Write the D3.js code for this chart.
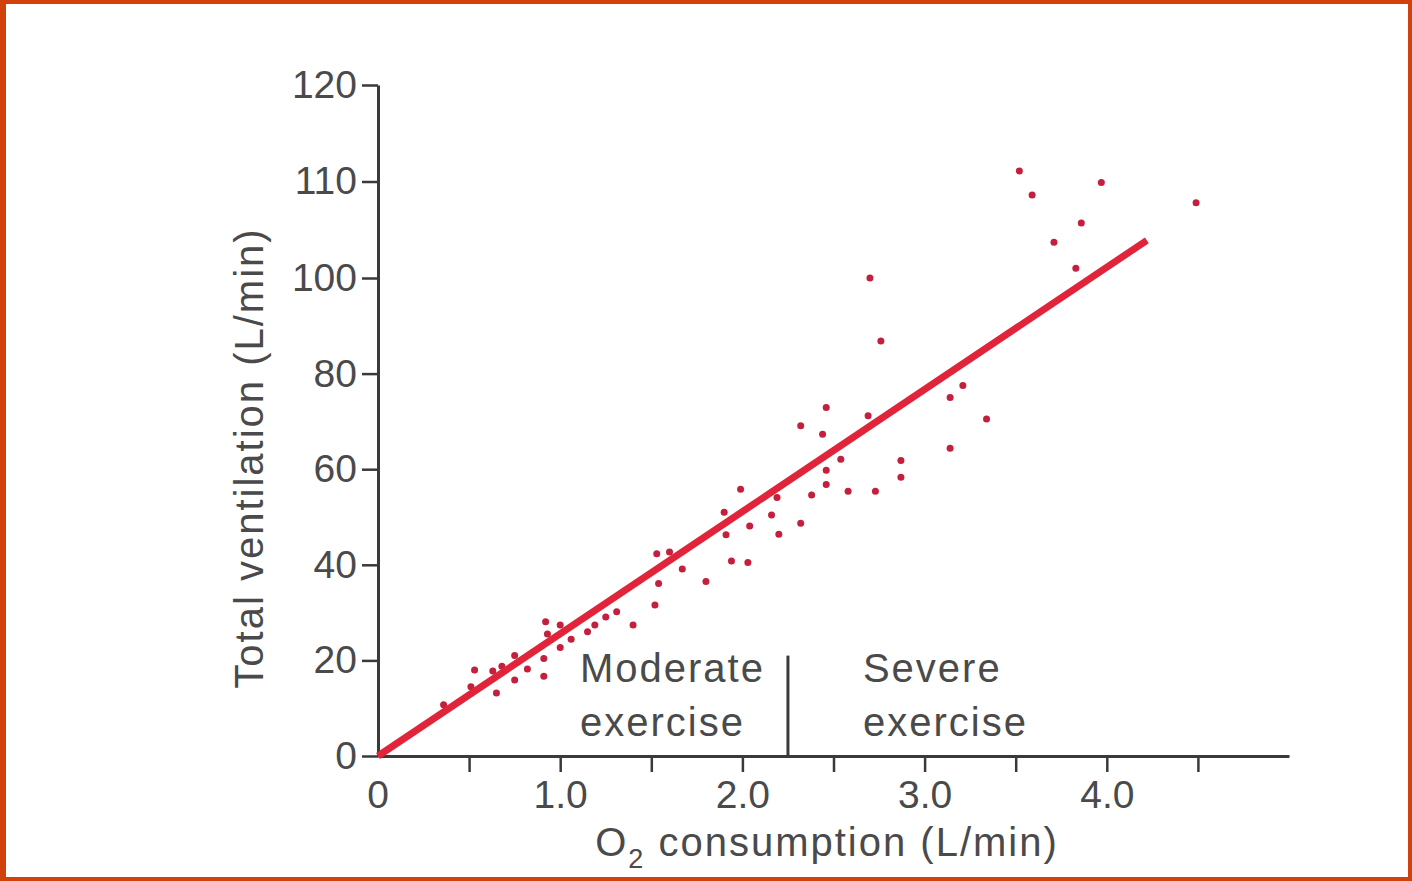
<!DOCTYPE html>
<html>
<head>
<meta charset="utf-8">
<script src="https://cdn.jsdelivr.net/npm/d3@7"></script>
<style>
  html, body { margin: 0; padding: 0; background: #ffffff; }
  svg { display: block; }
  text { font-family: "Liberation Sans", Arial, Helvetica, sans-serif; fill: #4a4a4a; }
</style>
</head>
<body>
<svg id="chart" width="1412" height="881"></svg>
<script>
// O2 consumption (L/min) for each measured subject
const o2Consumption = [
  0.36, 0.51, 0.53, 0.63, 0.65, 0.68, 0.75, 0.75, 0.82, 0.91,
  0.91, 0.92, 0.93, 1.00, 1.00, 1.06, 1.15, 1.19, 1.25, 1.31,
  1.40, 1.52, 1.54, 1.53, 1.60, 1.67, 1.80, 1.90, 1.91, 1.94,
  1.99, 2.03, 2.04, 2.16, 2.19, 2.20, 2.32, 2.32, 2.38, 2.44,
  2.46, 2.46, 2.46, 2.54, 2.58, 2.69, 2.70, 2.73, 2.76, 2.87,
  2.87, 3.14, 3.14, 3.21, 3.34, 3.52, 3.59, 3.71, 3.83, 3.86,
  3.97, 4.49
];
// Total ventilation (L/min) for the same subjects
const ventilation = [
  10.7, 14.5, 18.0, 17.8, 13.2, 18.8, 15.9, 21.0, 18.2, 20.4,
  16.7, 28.1, 25.5, 22.7, 27.4, 24.4, 26.0, 27.4, 29.1, 30.2,
  27.4, 31.6, 36.1, 42.3, 42.7, 39.1, 36.5, 51.0, 46.3, 40.8,
  55.8, 40.5, 48.1, 50.4, 54.1, 46.4, 69.1, 48.7, 54.6, 67.3,
  72.9, 59.8, 56.8, 62.1, 55.4, 71.2, 100.0, 55.4, 86.8, 61.8,
  58.3, 75.0, 64.4, 77.5, 70.5, 111.1, 108.6, 103.7, 101.0, 105.7,
  109.9, 107.8
];
// Fitted ventilation line: endpoints
const fitO2 = [0, 4.22];
const fitVent = [0, 103.9];

// Boundary between moderate and severe exercise
const boundaryO2 = 2.25;
const boundaryVentTop = 21;

// Axis ticks
const xTickValues = [0.5, 1.0, 1.5, 2.0, 2.5, 3.0, 3.5, 4.0, 4.5];
const xTickLabels = ["", "1.0", "", "2.0", "", "3.0", "", "4.0", ""];
const yTickValues = [0, 20, 40, 60, 80, 100, 110, 120];
const yTickLabels = ["0", "20", "40", "60", "80", "100", "110", "120"];

const svg = d3.select("#chart");
const W = 1412, H = 881;

// frame
const frameColor = "#d2400c";
svg.append("rect").attr("x", 0).attr("y", 0).attr("width", W).attr("height", H).attr("fill", frameColor);
svg.append("rect").attr("x", 6).attr("y", 4).attr("width", W - 6 - 4).attr("height", H - 4 - 4).attr("fill", "#ffffff");

const x = d3.scaleLinear().domain([0, 5]).range([378, 1289]);
// vertical axis: 0-100 in steps of 20, then 100-120 in steps of 10 over the same spacing
const y = d3.scaleLinear().domain([0, 100, 120]).range([756, 278, 85]);

const axisColor = "#3a3a3a";
const textColor = "#4d4d4d";
const fontSize = 39;

// x axis
const xAxisG = svg.append("g").attr("transform", `translate(0,${y(0)})`)
  .call(d3.axisBottom(x).tickValues(xTickValues)
    .tickFormat((d, i) => xTickLabels[i]).tickSize(16).tickSizeOuter(0).tickPadding(8));
xAxisG.select(".domain").attr("stroke", axisColor).attr("stroke-width", 3);
xAxisG.selectAll(".tick line").attr("stroke", axisColor).attr("stroke-width", 2.5);
xAxisG.selectAll(".tick text").attr("font-size", fontSize).attr("fill", textColor)
  .style("font-family", '"Liberation Sans", Arial, sans-serif');
// label at the origin
xAxisG.append("text").attr("x", x(0)).attr("y", 24).attr("dy", "0.71em")
  .attr("text-anchor", "middle").attr("font-size", fontSize).attr("fill", textColor).text("0");

// y axis
const yAxisG = svg.append("g").attr("transform", `translate(${x(0)},0)`)
  .call(d3.axisLeft(y).tickValues(yTickValues)
    .tickFormat((d, i) => yTickLabels[i]).tickSize(16).tickSizeOuter(0).tickPadding(5));
yAxisG.select(".domain").attr("stroke", axisColor).attr("stroke-width", 3);
yAxisG.selectAll(".tick line").attr("stroke", axisColor).attr("stroke-width", 2.5);
yAxisG.selectAll(".tick text").attr("font-size", fontSize).attr("fill", textColor)
  .style("font-family", '"Liberation Sans", Arial, sans-serif');

// axis titles
const titleSize = 40;
const spacing = "2px";
const xTitle = svg.append("text")
  .attr("x", 827).attr("y", 856)
  .attr("text-anchor", "middle")
  .attr("font-size", titleSize)
  .attr("fill", textColor)
  .attr("letter-spacing", spacing);
xTitle.append("tspan").text("O");
xTitle.append("tspan").attr("font-size", 27).attr("dy", 12).text("2");
xTitle.append("tspan").attr("dy", -12).text(" consumption (L/min)");

svg.append("text")
  .attr("transform", `translate(263,458) rotate(-90)`)
  .attr("text-anchor", "middle")
  .attr("font-size", titleSize)
  .attr("fill", textColor)
  .attr("letter-spacing", spacing)
  .text("Total ventilation (L/min)");

// boundary between exercise zones
const bx = x(boundaryO2);
svg.append("line")
  .attr("x1", bx).attr("x2", bx)
  .attr("y1", y(0)).attr("y2", y(boundaryVentTop))
  .attr("stroke", axisColor).attr("stroke-width", 3);

const zoneLabels = [
  { lines: ["Moderate", "exercise"], x: bx - 208 },
  { lines: ["Severe", "exercise"], x: bx + 75 }
];
zoneLabels.forEach(z => {
  z.lines.forEach((t, i) => {
    svg.append("text")
      .attr("x", z.x).attr("y", y(0) - 74 + i * 54)
      .attr("font-size", titleSize)
      .attr("fill", textColor)
      .attr("letter-spacing", spacing)
      .text(t);
  });
});

// data points
const pts = o2Consumption.map((v, i) => ({ o2: v, ve: ventilation[i] }));
svg.append("g").selectAll("circle").data(pts).join("circle")
  .attr("cx", d => x(d.o2))
  .attr("cy", d => y(d.ve))
  .attr("r", 3.5)
  .attr("fill", "#c41f3c");

// fitted line
const fit = fitO2.map((v, i) => [v, fitVent[i]]);
svg.append("path")
  .datum(fit)
  .attr("d", d3.line().x(d => x(d[0])).y(d => y(d[1])))
  .attr("fill", "none")
  .attr("stroke", "#e2243a")
  .attr("stroke-width", 7);
</script>
</body>
</html>
